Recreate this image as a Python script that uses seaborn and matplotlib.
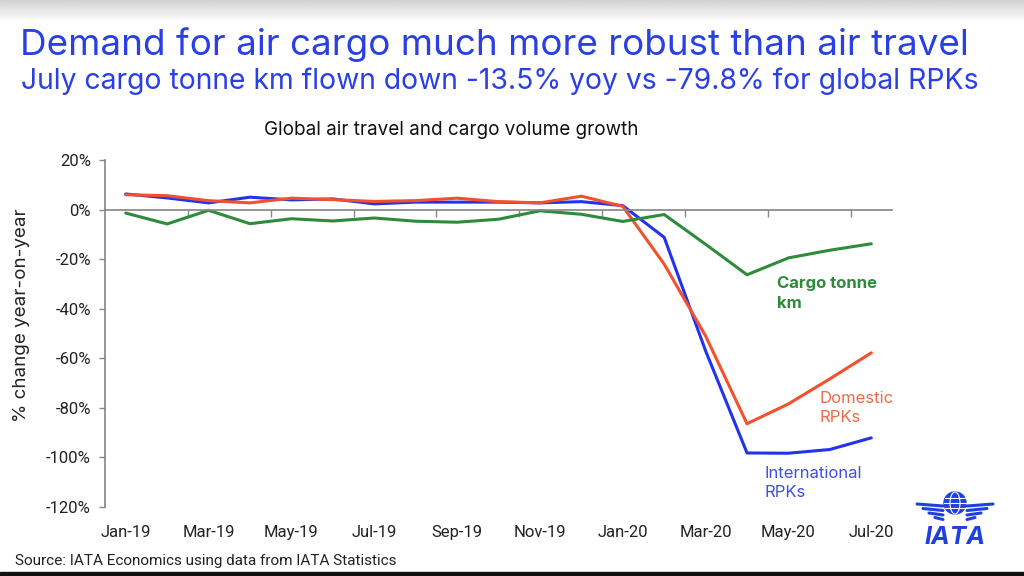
import numpy as np
import pandas as pd
import seaborn as sns
import matplotlib.pyplot as plt
from matplotlib.patches import Circle, Ellipse, Rectangle

# Data (% change year-on-year)
months = ['Jan-19', 'Feb-19', 'Mar-19', 'Apr-19', 'May-19', 'Jun-19', 'Jul-19',
          'Aug-19', 'Sep-19', 'Oct-19', 'Nov-19', 'Dec-19', 'Jan-20', 'Feb-20',
          'Mar-20', 'Apr-20', 'May-20', 'Jun-20', 'Jul-20']
international = [6.3, 4.7, 2.7, 5.0, 3.9, 4.3, 2.3, 3.0, 3.0, 3.0, 2.7, 3.2, 1.6,
                 -11.2, -57.0, -98.2, -98.3, -96.8, -92.1]
domestic = [6.0, 5.6, 3.6, 2.7, 4.6, 4.0, 3.3, 3.6, 4.6, 3.2, 2.7, 5.4, 1.3,
            -22.0, -51.0, -86.4, -78.4, -68.3, -57.8]
cargo = [-1.4, -5.8, -0.3, -5.7, -3.7, -4.6, -3.4, -4.7, -5.1, -3.9, -0.5, -1.9, -4.8,
         -2.0, -14.0, -26.3, -19.5, -16.4, -13.8]

series_colors = {'International RPKs': '#2233ee',
                 'Domestic RPKs': '#f4502e',
                 'Cargo tonne km': '#2e8b3a'}

df = pd.DataFrame({'idx': range(len(months)),
                   'International RPKs': international,
                   'Domestic RPKs': domestic,
                   'Cargo tonne km': cargo})
long = df.melt(id_vars='idx', var_name='series', value_name='value')

sns.set_theme(style='white')
plt.rcParams['font.family'] = ['Inter', 'DejaVu Sans']
narrow = ['Liberation Sans Narrow', 'Roboto', 'DejaVu Sans']
title_blue = '#2a3fe6'

fig = plt.figure(figsize=(10.24, 5.76), dpi=100)
fig.patch.set_facecolor('white')

# top grey band and bottom dark edge
band = fig.add_axes([0, 1 - 22 / 576, 1, 22 / 576])
band.imshow(np.linspace(0.82, 1.0, 50).reshape(-1, 1), aspect='auto', cmap='gray',
            vmin=0, vmax=1, extent=[0, 1, 0, 1])
band.axis('off')
fig.add_artist(Rectangle((0, 0), 1, 4 / 576, transform=fig.transFigure, color='#111111'))

ax = fig.add_axes([105 / 1024, 1 - 507 / 576, 787 / 1024, 347 / 576])
sns.lineplot(data=long, x='idx', y='value', hue='series', palette=series_colors,
             linewidth=2.2, legend=False, ax=ax)

ax.set_xlim(-0.5, 18.5)
ax.set_ylim(-120, 20)
ax.set_yticks(range(-120, 21, 20))
ax.yaxis.set_major_formatter(lambda v, p: f'{v:.0f}%')
ax.set_xlabel('')
ax.set_ylabel('')
ax.set_facecolor('none')
for s in ['top', 'right']:
    ax.spines[s].set_visible(False)
ax.spines['left'].set_color('#888888')
ax.spines['bottom'].set_color('#888888')
ax.spines['bottom'].set_position(('data', 0))
ax.set_xticks(np.arange(1.5, 18, 2))
ax.set_xticklabels([])
ax.tick_params(axis='x', length=5, width=1, color='#888888', direction='out', bottom=True)
ax.tick_params(axis='y', length=4, width=1, color='#888888', direction='out', left=True,
               labelsize=12, labelcolor='#222222', pad=6)
for lab in ax.get_yticklabels():
    lab.set_family(narrow)

sec = ax.secondary_xaxis('bottom')
sec.set_xticks(range(0, len(months), 2), labels=months[::2])
sec.tick_params(length=0, pad=13, labelsize=12, labelcolor='#222222')
sec.spines['bottom'].set_visible(False)
for lab in sec.get_xticklabels():
    lab.set_family(narrow)

# series labels
ax.text(15.72, -27.0, 'Cargo tonne\nkm', color='#2e8b3a', fontsize=12, fontweight='bold',
        va='top', ha='left', linespacing=1.35)
ax.text(16.74, -73.0, 'Domestic\nRPKs', color='#f06a4a', fontsize=12,
        va='top', ha='left', linespacing=1.35)
ax.text(15.41, -103.5, 'International\nRPKs', color='#3f4fe0', fontsize=12,
        va='top', ha='left', linespacing=1.35)

# titles
fig.text(20 / 1024, 1 - 45 / 576, 'Demand for air cargo much more robust than air travel',
         color=title_blue, fontsize=26.5, va='center', ha='left')
fig.text(21 / 1024, 1 - 81 / 576,
         'July cargo tonne km flown down -13.5% yoy vs -79.8% for global RPKs',
         color=title_blue, fontsize=20.4, va='center', ha='left')
fig.text(451 / 1024, 1 - 130 / 576, 'Global air travel and cargo volume growth',
         color='#111111', fontsize=13.6, va='center', ha='center')
fig.text(22 / 1024, 1 - 315 / 576, '% change year-on-year', rotation=90,
         color='#222222', fontsize=13.5, va='center', ha='center')
fig.text(15 / 1024, 1 - 561 / 576, 'Source: IATA Economics using data from IATA Statistics',
         color='#222222', fontsize=11, va='center', ha='left', family=narrow)

# IATA logo
logo = '#1f3fe0'
logo_ax = fig.add_axes([915 / 1024, 1 - 548 / 576, 80 / 1024, 60 / 576])
logo_ax.set_xlim(0, 80)
logo_ax.set_ylim(0, 60)
logo_ax.axis('off')
logo_ax.add_patch(Circle((40, 45), 11, color=logo))
logo_ax.add_patch(Ellipse((40, 45), 10, 22, fill=False, ec='white', lw=0.8))
logo_ax.plot([29, 51], [45, 45], color='white', lw=0.8)
logo_ax.plot([30, 50], [50, 50], color='white', lw=0.8)
logo_ax.plot([30, 50], [40, 40], color='white', lw=0.8)
for i, w in enumerate([26, 22, 18, 14]):
    y = 42 - i * 4.5
    logo_ax.plot([40 - 12 - w + i * 2, 40 - 12], [y + 2, y], color=logo, lw=2.2,
                 solid_capstyle='round')
    logo_ax.plot([40 + 12, 40 + 12 + w - i * 2], [y, y + 2], color=logo, lw=2.2,
                 solid_capstyle='round')
logo_ax.text(40, 10, 'IATA', color=logo, fontsize=18, fontweight='bold', style='italic',
             ha='center', va='center')

fig.savefig('out.png', dpi=100)
